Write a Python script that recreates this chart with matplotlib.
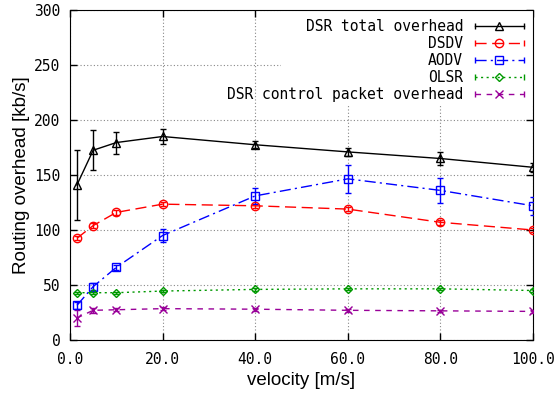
import matplotlib.pyplot as plt
from matplotlib.lines import Line2D
from matplotlib.patches import Rectangle
from matplotlib.legend_handler import HandlerLine2D

# velocity [m/s]
velocity = [1.5, 5, 10, 20, 40, 60, 80, 100]

# routing overhead [kb/s] and error bar half-widths
dsr_total = [141, 172.5, 179.5, 185, 177.5, 171, 165, 157]
dsr_total_err = [32, 18, 10, 7, 3, 3.5, 5.5, 4]
dsdv = [92.5, 104, 116, 123.5, 122, 119, 107, 100]
dsdv_err = [2, 2, 2, 2, 2, 2, 2, 2]
aodv = [31.5, 48.5, 66, 95, 131, 146.5, 136, 122]
aodv_err = [3, 3, 2, 6, 7, 13, 11, 8]
olsr = [43, 43, 43, 44.5, 46, 46.5, 46.5, 45]
olsr_err = [1, 1, 1, 1, 1, 1, 1, 1]
dsr_ctrl = [20, 27, 27.5, 28.5, 28, 27, 26.5, 26]
dsr_ctrl_err = [7, 2, 1.5, 1.5, 1.5, 1.5, 1, 1]

labels = ['DSR total overhead', 'DSDV', 'AODV', 'OLSR', 'DSR control packet overhead']
colors = ['black', '#ff0000', '#0000ff', '#009900', '#990099']
styles = ['-', (0, (8, 4)), (0, (8, 3, 1.5, 3)), (0, (1.5, 2.5)), (0, (4, 4))]
markers = ['^', 'o', 's', 'D', 'x']
msizes = [6, 6, 6, 4.5, 6]
series = [(dsr_total, dsr_total_err), (dsdv, dsdv_err), (aodv, aodv_err),
          (olsr, olsr_err), (dsr_ctrl, dsr_ctrl_err)]

mono = 'DejaVu Sans Mono'

fig = plt.figure(figsize=(5.57, 3.98), dpi=100)
ax = fig.add_axes([70 / 557, 1 - 340 / 398, 463 / 557, 330 / 398])

handles = []
hmap = {}
for (vals, errs), lab, c, ls, m, ms in zip(series, labels, colors, styles, markers, msizes):
    ax.errorbar(velocity, vals, yerr=errs, color=c, ls=ls, marker=m, markersize=ms,
                markerfacecolor='none', markeredgewidth=1, linewidth=1,
                elinewidth=1, capsize=2.5, zorder=3)
    # gnuplot-style key sample: line with end caps and a centre marker
    body = Line2D([], [], color=c, ls=ls, lw=1, marker=m, markersize=ms,
                  markerfacecolor='none', markeredgewidth=1)
    caps = Line2D([], [], color=c, ls='none', marker='|', markersize=5,
                  markeredgewidth=1)
    hmap[body] = HandlerLine2D(numpoints=1)
    hmap[caps] = HandlerLine2D(numpoints=2, marker_pad=0)
    handles.append((body, caps))

ax.set_xlim(0, 100)
ax.set_ylim(0, 300)
ax.set_xticks([0, 20, 40, 60, 80, 100])
ax.set_xticklabels(['0.0', '20.0', '40.0', '60.0', '80.0', '100.0'])
ax.set_yticks(range(0, 301, 50))
for lbl in ax.get_xticklabels() + ax.get_yticklabels():
    lbl.set_fontfamily(mono)
    lbl.set_fontsize(10.5)

ax.tick_params(direction='in', top=True, right=True, length=5, width=1)
ax.tick_params(axis='x', pad=9)
ax.tick_params(axis='y', pad=7)
ax.grid(True, color='#888888', ls=(0, (1, 2)), lw=0.8, zorder=0.5)
ax.set_axisbelow(True)

# white key box (text overflows it on the left, as in gnuplot)
ax.add_patch(Rectangle((0.456, 0.712), 0.544, 0.288, transform=ax.transAxes,
                       facecolor='white', edgecolor='none', zorder=1))

ax.set_xlabel('velocity [m/s]', fontsize=13.5, family='Liberation Sans', labelpad=3)
ax.set_ylabel('Routing overhead [kb/s]', fontsize=13.5, family='Liberation Sans',
              labelpad=3)

leg = ax.legend(handles, labels, handler_map=hmap, loc='upper right',
                markerfirst=False, frameon=False,
                prop={'family': mono, 'size': 10.5}, handlelength=3.4,
                labelspacing=0.15, borderaxespad=0.3, borderpad=0.3)

fig.savefig('out.png', dpi=100)
